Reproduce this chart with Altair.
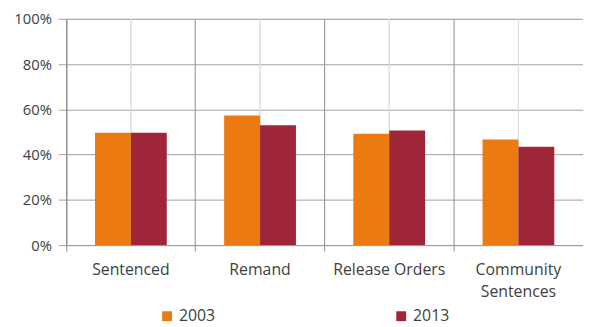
import altair as alt
import pandas as pd

categories = ["Sentenced", "Remand", "Release Orders", "Community Sentences"]
years = ["2003", "2013"]
v2003 = [0.496, 0.573, 0.492, 0.467]
v2013 = [0.496, 0.530, 0.506, 0.435]
y_ticks = [0, 0.2, 0.4, 0.6, 0.8, 1.0]
colors = ["#EC7A10", "#9E2638"]

rows = []
for c, a, b in zip(categories, v2003, v2013):
    rows.append({"category": c, "year": "2003", "value": a})
    rows.append({"category": c, "year": "2013", "value": b})
df = pd.DataFrame(rows)

FONT = "Open Sans"
LABEL = "#404040"
FS = 16

xscale = alt.Scale(domain=categories, paddingInner=0, paddingOuter=0)
xaxis = alt.Axis(
    bandPosition=0,
    grid=True,
    gridColor="#8c8c8c",
    gridWidth=1,
    domainColor="#9a9a9a",
    tickColor="#8c8c8c",
    tickSize=6,
    labelAngle=0,
    labelFont=FONT,
    labelFontSize=FS,
    labelColor=LABEL,
    labelPadding=11,
    labelLineHeight=22,
    labelBaseline="top",
    labelExpr="length(datum.label) > 15 ? split(datum.label, ' ') : datum.label",
)

centers = alt.Chart(df).mark_rule(color="#dcdcdc", strokeWidth=1).encode(
    x=alt.X("category:N", scale=xscale, sort=categories, bandPosition=0.5, title=None, axis=xaxis)
)

bars = alt.Chart(df).mark_bar().encode(
    x=alt.X("category:N", scale=xscale, sort=categories, title=None, axis=xaxis),
    xOffset=alt.XOffset("year:N", scale=alt.Scale(paddingInner=0, paddingOuter=0.8)),
    y=alt.Y(
        "value:Q",
        scale=alt.Scale(domain=[0, 1], nice=False),
        title=None,
        axis=alt.Axis(
            values=y_ticks,
            format=".0%",
            grid=True,
            gridColor="#a0a0a0",
            domainColor="#8c8c8c",
            tickColor="#a0a0a0",
            tickSize=8,
            labelFont=FONT,
            labelFontSize=15,
            labelColor=LABEL,
            labelPadding=7,
        ),
    ),
    color=alt.Color(
        "year:N",
        scale=alt.Scale(domain=years, range=colors),
        legend=alt.Legend(
            title=None,
            orient="none",
            direction="horizontal",
            legendX=94,
            legendY=293,
            symbolType="square",
            symbolSize=100,
            symbolStrokeWidth=0,
            labelFont=FONT,
            labelFontSize=FS,
            labelColor=LABEL,
            labelOffset=4,
            columnPadding=180,
        ),
    ),
)

chart = (
    alt.layer(centers, bars)
    .properties(
        width=523,
        height=229,
        padding={"left": 59, "top": 9, "right": 0, "bottom": 84},
        autosize=alt.AutoSizeParams(type="none"),
    )
    .configure_view(stroke=None)
    .configure(background="white")
)

chart.save("out.html", embed_options={"renderer": "svg", "actions": False})
